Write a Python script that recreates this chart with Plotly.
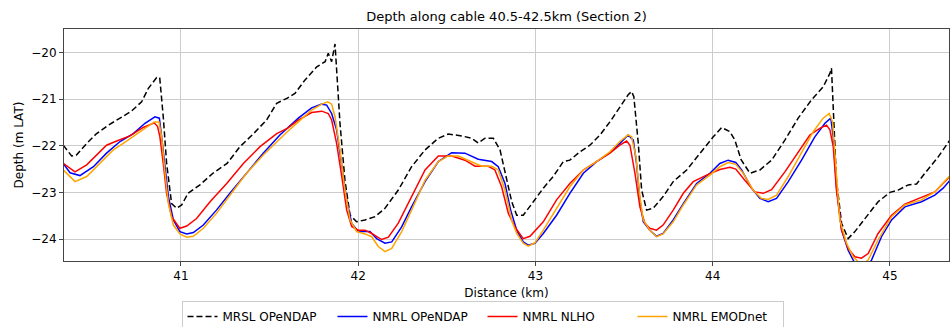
import plotly.graph_objects as go

# ---- data ----
mrsl_x = [40.336, 40.383, 40.41, 40.468, 40.524, 40.59, 40.656, 40.72, 40.778, 40.816, 40.863, 40.88, 40.9, 40.919,
          40.947, 40.976, 41.004, 41.04, 41.107, 41.18, 41.26, 41.333, 41.41, 41.483, 41.54, 41.6, 41.643, 41.7,
          41.766, 41.813, 41.831, 41.85, 41.869, 41.878, 41.897, 41.925, 41.954, 41.991, 42.038, 42.095, 42.151,
          42.226, 42.301, 42.377, 42.452, 42.508, 42.583, 42.64, 42.677, 42.715, 42.762, 42.8, 42.837, 42.866,
          42.894, 42.931, 42.988, 43.044, 43.1, 43.157, 43.194, 43.251, 43.307, 43.364, 43.42, 43.476, 43.523,
          43.542, 43.555, 43.58, 43.599, 43.627, 43.664, 43.72, 43.777, 43.853, 43.928, 44.003, 44.05, 44.097,
          44.125, 44.16, 44.21, 44.266, 44.332, 44.407, 44.482, 44.557, 44.623, 44.661, 44.67, 44.68, 44.698,
          44.727, 44.764, 44.802, 44.858, 44.933, 45.0, 45.046, 45.103, 45.15, 45.197, 45.272, 45.338]
mrsl_y = [-21.99, -22.22, -22.2, -21.95, -21.74, -21.56, -21.41, -21.26, -21.06, -20.77, -20.54, -20.54, -21.38, -22.38,
          -23.24, -23.34, -23.27, -23.02, -22.84, -22.59, -22.38, -22.02, -21.74, -21.45, -21.09, -20.98, -20.88, -20.59,
          -20.31, -20.2, -20.02, -20.2, -19.82, -20.38, -21.52, -22.74, -23.49, -23.63, -23.59, -23.52, -23.34,
          -22.95, -22.45, -22.09, -21.84, -21.75, -21.79, -21.84, -21.94, -21.84, -21.84, -22.09, -22.74, -23.2,
          -23.49, -23.49, -23.2, -22.91, -22.66, -22.34, -22.31, -22.13, -21.99, -21.77, -21.49, -21.16, -20.91,
          -20.84, -20.95, -21.95, -22.95, -23.38, -23.34, -23.09, -22.77, -22.52, -22.16, -21.81, -21.61, -21.7,
          -21.88, -22.3, -22.59, -22.52, -22.31, -21.88, -21.41, -21.02, -20.74, -20.45, -20.34, -21.31, -22.74,
          -23.66, -23.99, -23.84, -23.56, -23.2, -23.0, -22.95, -22.84, -22.82, -22.59, -22.24, -21.88]

opendap_x = [40.336, 40.374, 40.43, 40.506, 40.58, 40.656, 40.731, 40.797, 40.853, 40.878, 40.891, 40.91, 40.929,
             40.957, 40.994, 41.032, 41.07, 41.126, 41.2, 41.276, 41.37, 41.464, 41.558, 41.6, 41.662, 41.737,
             41.794, 41.822, 41.85, 41.878, 41.907, 41.935, 41.963, 42.0, 42.038, 42.066, 42.104, 42.151, 42.189,
             42.245, 42.301, 42.377, 42.452, 42.527, 42.602, 42.677, 42.753, 42.79, 42.828, 42.86, 42.894, 42.931,
             42.959, 42.997, 43.044, 43.119, 43.194, 43.27, 43.345, 43.42, 43.476, 43.523, 43.552, 43.57, 43.589,
             43.608, 43.645, 43.683, 43.72, 43.777, 43.834, 43.909, 43.984, 44.04, 44.087, 44.13, 44.163, 44.219,
             44.266, 44.313, 44.36, 44.426, 44.501, 44.576, 44.633, 44.666, 44.68, 44.698, 44.727, 44.764, 44.802,
             44.868, 44.896, 44.952, 45.009, 45.084, 45.178, 45.253, 45.3, 45.338]
opendap_y = [-22.38, -22.58, -22.64, -22.45, -22.16, -21.91, -21.74, -21.52, -21.38, -21.41, -21.81, -22.52, -23.09,
             -23.59, -23.84, -23.89, -23.86, -23.7, -23.38, -23.02, -22.59, -22.16, -21.77, -21.63, -21.41, -21.19,
             -21.11, -21.13, -21.31, -21.66, -22.38, -23.16, -23.66, -23.84, -23.84, -23.84, -23.99, -24.09, -24.06,
             -23.74, -23.31, -22.77, -22.34, -22.15, -22.16, -22.29, -22.34, -22.45, -22.81, -23.38, -23.81, -24.06,
             -24.13, -24.09, -23.88, -23.49, -23.02, -22.59, -22.34, -22.15, -21.95, -21.77, -21.88, -22.38, -23.16,
             -23.63, -23.81, -23.94, -23.88, -23.59, -23.24, -22.81, -22.59, -22.38, -22.31, -22.36, -22.52, -22.91,
             -23.13, -23.2, -23.13, -22.77, -22.31, -21.81, -21.52, -21.41, -21.81, -22.88, -23.81, -24.24, -24.52,
             -24.6, -24.45, -23.95, -23.59, -23.31, -23.2, -23.06, -22.91, -22.74]

nlho_x = [40.336, 40.402, 40.468, 40.524, 40.58, 40.637, 40.712, 40.787, 40.849, 40.868, 40.881, 40.9, 40.919,
          40.947, 40.994, 41.032, 41.088, 41.164, 41.258, 41.352, 41.446, 41.54, 41.6, 41.662, 41.737, 41.794,
          41.831, 41.85, 41.878, 41.907, 41.935, 41.963, 42.0, 42.038, 42.076, 42.132, 42.17, 42.226, 42.301,
          42.377, 42.452, 42.527, 42.602, 42.659, 42.734, 42.771, 42.809, 42.847, 42.884, 42.931, 42.969, 43.044,
          43.119, 43.194, 43.27, 43.345, 43.42, 43.476, 43.514, 43.533, 43.561, 43.589, 43.617, 43.645, 43.683,
          43.72, 43.777, 43.834, 43.89, 43.965, 44.04, 44.097, 44.13, 44.181, 44.238, 44.285, 44.332, 44.407,
          44.482, 44.548, 44.604, 44.642, 44.661, 44.68, 44.698, 44.727, 44.764, 44.802, 44.839, 44.877, 44.933,
          45.009, 45.084, 45.178, 45.253, 45.338]
nlho_y = [-22.38, -22.56, -22.41, -22.2, -21.99, -21.9, -21.79, -21.61, -21.51, -21.59, -21.81, -22.38, -23.02,
          -23.52, -23.77, -23.72, -23.56, -23.2, -22.81, -22.38, -22.02, -21.74, -21.63, -21.45, -21.29, -21.26,
          -21.31, -21.45, -21.95, -22.66, -23.38, -23.73, -23.81, -23.81, -23.88, -24.01, -23.96, -23.66, -23.09,
          -22.52, -22.22, -22.22, -22.31, -22.44, -22.44, -22.52, -22.88, -23.45, -23.74, -23.99, -23.94, -23.63,
          -23.16, -22.81, -22.52, -22.34, -22.16, -21.99, -21.9, -21.99, -22.59, -23.31, -23.66, -23.77, -23.81,
          -23.7, -23.38, -23.02, -22.77, -22.63, -22.51, -22.46, -22.5, -22.74, -22.99, -23.02, -22.94, -22.56,
          -22.13, -21.77, -21.63, -21.56, -21.66, -22.02, -22.95, -23.81, -24.2, -24.38, -24.41, -24.31, -23.88,
          -23.49, -23.25, -23.1, -22.99, -22.66]

emod_x = [40.336, 40.402, 40.468, 40.543, 40.618, 40.693, 40.768, 40.849, 40.876, 40.891, 40.91, 40.929, 40.957,
          40.994, 41.032, 41.07, 41.126, 41.2, 41.276, 41.37, 41.464, 41.558, 41.6, 41.662, 41.737, 41.794, 41.828,
          41.85, 41.869, 41.897, 41.925, 41.954, 41.991, 42.038, 42.076, 42.113, 42.151, 42.189, 42.245, 42.301,
          42.377, 42.452, 42.508, 42.565, 42.64, 42.696, 42.753, 42.79, 42.828, 42.865, 42.894, 42.931, 42.959,
          42.997, 43.044, 43.119, 43.194, 43.27, 43.345, 43.42, 43.476, 43.523, 43.542, 43.567, 43.589, 43.608,
          43.645, 43.683, 43.72, 43.777, 43.834, 43.909, 43.984, 44.04, 44.087, 44.13, 44.172, 44.228, 44.275,
          44.313, 44.36, 44.426, 44.501, 44.567, 44.623, 44.657, 44.676, 44.695, 44.717, 44.755, 44.792, 44.839,
          44.877, 44.933, 45.009, 45.084, 45.178, 45.253, 45.338]
emod_y = [-22.52, -22.77, -22.66, -22.38, -22.09, -21.9, -21.7, -21.49, -21.49, -21.81, -22.59, -23.24, -23.7,
          -23.89, -23.96, -23.94, -23.77, -23.45, -23.06, -22.59, -22.2, -21.84, -21.7, -21.49, -21.24, -21.11, -21.06,
          -21.11, -21.38, -22.09, -22.95, -23.59, -23.84, -23.89, -23.95, -24.16, -24.27, -24.2, -23.84, -23.38,
          -22.74, -22.34, -22.22, -22.22, -22.34, -22.44, -22.44, -22.52, -22.95, -23.59, -23.88, -24.09, -24.15,
          -24.08, -23.81, -23.34, -22.88, -22.52, -22.34, -22.13, -21.91, -21.77, -21.81, -22.24, -23.09, -23.59,
          -23.81, -23.95, -23.89, -23.63, -23.27, -22.84, -22.63, -22.45, -22.36, -22.4, -22.59, -22.95, -23.13,
          -23.15, -23.06, -22.66, -22.16, -21.7, -21.41, -21.31, -21.49, -22.52, -23.59, -24.09, -24.38, -24.55,
          -24.45, -24.02, -23.52, -23.27, -23.16, -22.99, -22.64]

series_names = ["MRSL OPeNDAP", "NMRL OPeNDAP", "NMRL NLHO", "NMRL EMODnet"]
x_ticks = [41, 42, 43, 44, 45]
y_ticks = [-24, -23, -22, -21, -20]

FONT = "DejaVu Sans"

fig = go.Figure()
fig.add_trace(go.Scatter(x=mrsl_x, y=mrsl_y, mode="lines", name=series_names[0],
                         line=dict(color="black", width=1.5, dash="6px,3px")))
fig.add_trace(go.Scatter(x=opendap_x, y=opendap_y, mode="lines", name=series_names[1],
                         line=dict(color="#0000ff", width=1.5)))
fig.add_trace(go.Scatter(x=nlho_x, y=nlho_y, mode="lines", name=series_names[2],
                         line=dict(color="#ff0000", width=1.5)))
fig.add_trace(go.Scatter(x=emod_x, y=emod_y, mode="lines", name=series_names[3],
                         line=dict(color="#ffa500", width=1.5)))

axis_common = dict(showline=True, mirror=True, linecolor="#444444", linewidth=1,
                   ticks="outside", ticklen=4, tickcolor="#444444",
                   showgrid=True, gridcolor="#cccccc", gridwidth=1, zeroline=False,
                   automargin=False,
                   tickfont=dict(family=FONT, size=12, color="black"))

fig.update_layout(
    width=951, height=327,
    margin=dict(l=64, r=2, t=29, b=66, autoexpand=False),
    paper_bgcolor="white", plot_bgcolor="white",
    font=dict(family=FONT, color="black"),
    title=dict(text="Depth along cable 40.5-42.5km (Section 2)", x=0.5, xref="paper",
               y=1 - 16 / 327, yref="container", yanchor="middle",
               font=dict(family=FONT, size=13, color="black")),
    xaxis=dict(range=[40.34, 45.333], tickvals=x_ticks,
               title=dict(text="Distance (km)", standoff=6, font=dict(family=FONT, size=12)),
               **axis_common),
    yaxis=dict(range=[-24.47, -19.5], tickvals=y_ticks,
               title=dict(text="Depth (m LAT)", standoff=5, font=dict(family=FONT, size=12)),
               **axis_common),
    legend=dict(orientation="h", xref="container", x=482.5 / 951, xanchor="center",
                yref="container", y=1 - 301 / 327, yanchor="top",
                entrywidth=105, entrywidthmode="pixels",
                bordercolor="#cccccc", borderwidth=1, bgcolor="white",
                font=dict(family=FONT, size=12, color="black")),
    showlegend=True,
)

fig.write_html("out.html", config={"displayModeBar": False},
               post_script="document.body.style.margin='0';document.body.style.overflow='hidden';")
